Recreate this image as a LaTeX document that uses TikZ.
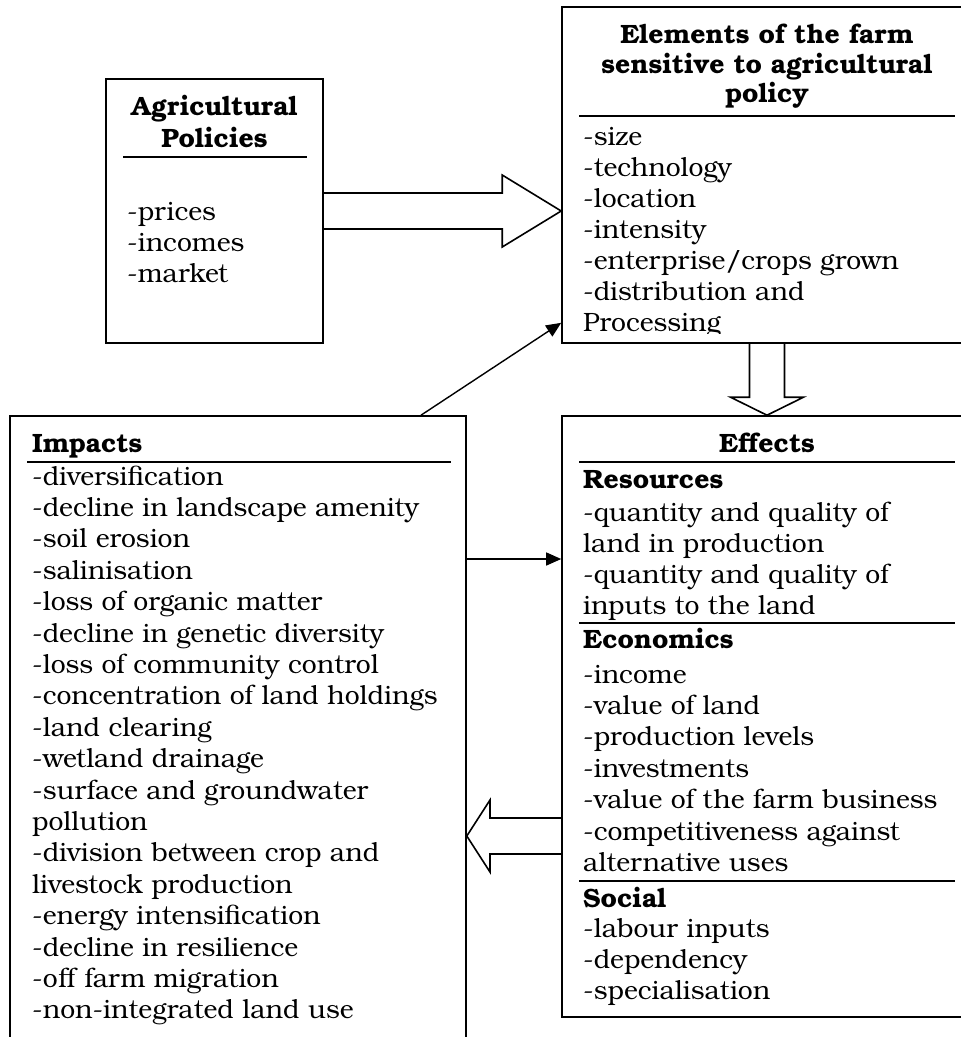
\documentclass[tikz,border=0pt]{standalone}
\usepackage{fontspec}
\setmainfont{TeX Gyre Bonum}
\usetikzlibrary{arrows.meta,calc}
\newcommand{\itemfont}{\fontsize{26.5}{31.4}\selectfont}
\tikzset{
	box/.style = {draw, line width = 1.6pt, rectangle, inner sep = 0pt},
	item/.style = {anchor = base west, inner sep = 0pt, font = \itemfont},
	head/.style = {anchor = base, inner sep = 0pt, font = \itemfont\bfseries},
	subhead/.style = {anchor = base west, inner sep = 0pt, font = \itemfont\bfseries},
	rule/.style = {line width = 1.6pt},
	hollow/.style = {draw, line width = 1.6pt},
	link/.style = {line width = 1.4pt, -{Triangle[length = 15pt, width = 13pt]}}
}
\begin{document}
\begin{tikzpicture}[x = 1pt, y = -1pt]
\useasboundingbox (0,0) rectangle (961,1037);
\clip (0,0) rectangle (961,1037);
\node[box, minimum width = 217pt, minimum height = 264pt] (policies) at (214.5,211) {};
\node[box, minimum width = 440pt, minimum height = 336pt] (elements) at (782,175) {};
\node[box, minimum width = 440pt, minimum height = 601pt] (effects) at (782,716.5) {};
\node[box, minimum width = 456pt, minimum height = 660pt] (impacts) at (238,746) {};

\node[head] (polhead1) at (214.5,115) {Agricultural};
\node[head] (polhead2) at (214.5,147) {Policies};
\draw[rule] (123,157) -- (307,157);
\foreach \t [count = \i] in {-prices,-incomes,-market}
{
	\node[item] (pol\i) at (127,{220+31.4*(\i-1)}) {\t};
}

\node[head] (elehead1) at (767,43) {Elements of the farm};
\node[head] (elehead2) at (767,73) {sensitive to agricultural};
\node[head] (elehead3) at (767,102) {policy};
\draw[rule] (579,116) -- (955,116);
\foreach \t [count = \i] in {-size,-technology,-location,-intensity,-enterprise/crops grown,-distribution and}
{
	\node[item] (ele\i) at (583,{145+31*(\i-1)}) {\t};
}
\begin{scope}
\clip (562,7) rectangle (972,333);
\node[item] (ele7) at (583,331) {Processing};
\end{scope}

\node[subhead] (imphead) at (32,452) {Impacts};
\draw[rule] (27,462) -- (451,462);
\foreach \t [count = \i] in {-diversification,-decline in landscape amenity,-soil erosion,-salinisation,-loss of organic matter,-decline in genetic diversity,-loss of community control,-concentration of land holdings,-land clearing,-wetland drainage,-surface and groundwater,pollution,-division between crop and,livestock production,-energy intensification,-decline in resilience,-off farm migration,-non-integrated land use}
{
	\node[item] (imp\i) at (32,{485+31.4*(\i-1)}) {\t};
}

\node[head] (effhead) at (767,452) {Effects};
\draw[rule] (579,462) -- (955,462);
\node[subhead] (res) at (583,488) {Resources};
\foreach \t [count = \i] in {-quantity and quality of,land in production,-quantity and quality of,inputs to the land}
{
	\node[item] (res\i) at (583,{521+31.2*(\i-1)}) {\t};
}
\draw[rule] (579,623) -- (955,623);
\node[subhead] (eco) at (583,648) {Economics};
\foreach \t [count = \i] in {-income,-value of land,-production levels,-investments,-value of the farm business,-competitiveness against,alternative uses}
{
	\node[item] (eco\i) at (583,{683+31.4*(\i-1)}) {\t};
}
\draw[rule] (579,881) -- (955,881);
\node[subhead] (soc) at (583,907) {Social};
\foreach \t [count = \i] in {-labour inputs,-dependency,-specialisation}
{
	\node[item] (soc\i) at (583,{937+31.4*(\i-1)}) {\t};
}

\coordinate (down top) at (elehead1 |- elements.south);
\coordinate (down tip) at (effhead |- effects.north);
\draw[hollow] ($(policies.east)+(0,-18)$) -- ($(policies.east -| elements.west)+(-59,-18)$) -- ++(0,-18) -- (policies.east -| elements.west) -- ++(-59,36) -- ++(0,-18) -- ($(policies.east)+(0,18)$);
\draw[hollow] ($(down top)+(-17.5,0)$) -- ($(down tip)+(-17.5,-18)$) -- ++(-19,0) -- (down tip) -- ++(36.5,-18) -- ++(-19,0) -- ($(down top)+(17.5,0)$);
\draw[hollow] (effects.west |- 0,818) -- (490,818) -- (490,800) -- (impacts.east |- 0,836) -- (490,872) -- (490,854) -- (effects.west |- 0,854);
\draw[link] (421,0 |- impacts.north) -- ($(elements.south west)+(0,-21)$);
\draw[link] (impacts.east |- 0,559) -- (effects.west |- 0,559);
\end{tikzpicture}
\end{document}
